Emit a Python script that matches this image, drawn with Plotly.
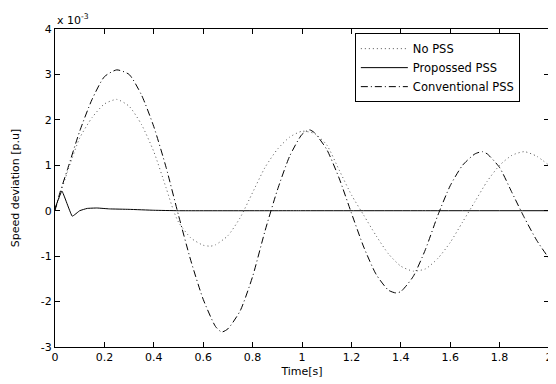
import plotly.graph_objects as go

# Time samples (s) and speed deviation values (x 1e-3 p.u.)
t_nopss = [0, 0.02, 0.05, 0.1, 0.15, 0.2, 0.25, 0.3, 0.35, 0.4, 0.45, 0.48, 0.5, 0.55, 0.6, 0.63,
           0.65, 0.7, 0.75, 0.8, 0.85, 0.9, 0.95, 1.0, 1.05, 1.1, 1.15, 1.2, 1.25, 1.3, 1.35, 1.4,
           1.45, 1.5, 1.55, 1.6, 1.65, 1.7, 1.75, 1.8, 1.85, 1.9, 1.95, 2.0]
v_nopss = [0, 0.35, 0.85, 1.6, 2.05, 2.35, 2.45, 2.3, 1.9, 1.3, 0.5, 0.0, -0.25, -0.6, -0.76, -0.78,
           -0.75, -0.55, -0.15, 0.4, 0.95, 1.35, 1.62, 1.75, 1.7, 1.45, 0.9, 0.35, -0.1, -0.55, -0.95, -1.22,
           -1.33, -1.28, -1.05, -0.7, -0.25, 0.2, 0.65, 1.0, 1.22, 1.3, 1.2, 1.0]

t_prop = [0, 0.028, 0.07, 0.1, 0.13, 0.17, 0.22, 0.3, 0.4, 0.5, 1.0, 1.5, 2.0]
v_prop = [0.05, 0.43, -0.12, 0.0, 0.05, 0.06, 0.04, 0.03, 0.01, 0.0, 0.0, 0.0, 0.0]

t_conv = [0, 0.02, 0.05, 0.1, 0.15, 0.2, 0.25, 0.3, 0.35, 0.4, 0.45, 0.5, 0.55, 0.6, 0.65, 0.675,
          0.7, 0.75, 0.8, 0.85, 0.9, 0.95, 1.0, 1.03, 1.05, 1.1, 1.15, 1.2, 1.25, 1.3, 1.35, 1.38,
          1.4, 1.45, 1.5, 1.55, 1.6, 1.65, 1.7, 1.73, 1.75, 1.8, 1.85, 1.9, 1.95, 2.0]
v_conv = [0, 0.4, 0.9, 1.75, 2.45, 2.95, 3.1, 3.0, 2.55, 1.85, 0.95, -0.1, -1.1, -1.95, -2.55, -2.67,
          -2.6, -2.2, -1.45, -0.45, 0.45, 1.2, 1.68, 1.78, 1.72, 1.35, 0.72, -0.05, -0.8, -1.4, -1.75, -1.81,
          -1.78, -1.45, -0.85, -0.1, 0.55, 1.0, 1.25, 1.3, 1.25, 0.95, 0.4, -0.15, -0.65, -1.05]

series_names = ["No PSS", "Propossed PSS", "Conventional PSS"]

x_ticks = [0, 0.2, 0.4, 0.6, 0.8, 1, 1.2, 1.4, 1.6, 1.8, 2]
x_labels = ["0", "0.2", "0.4", "0.6", "0.8", "1", "1.2", "1.4", "1.6", "1.8", "2"]
y_ticks = [-3, -2, -1, 0, 1, 2, 3, 4]
y_labels = ["-3", "-2", "-1", "0", "1", "2", "3", "4"]

font = "DejaVu Sans, Liberation Sans, Arial, sans-serif"

fig = go.Figure()
fig.add_trace(go.Scatter(x=t_nopss, y=v_nopss, mode="lines", name=series_names[0],
                         line=dict(color="#555555", width=1, dash="1px,3px", shape="spline", smoothing=0.6)))
fig.add_trace(go.Scatter(x=t_prop, y=v_prop, mode="lines", name=series_names[1],
                         line=dict(color="black", width=1, shape="spline", smoothing=0.3)))
fig.add_trace(go.Scatter(x=t_conv, y=v_conv, mode="lines", name=series_names[2],
                         line=dict(color="black", width=1, dash="7px,3px,1px,3px", shape="spline", smoothing=0.6)))

axis_common = dict(showline=True, linecolor="black", linewidth=1, mirror="ticks",
                   ticks="inside", ticklen=5, tickcolor="black", showgrid=False, zeroline=False,
                   automargin=False, ticklabeloverflow="allow",
                   tickfont=dict(family=font, size=11, color="black"))

fig.update_xaxes(range=[0, 2.000001], tickvals=x_ticks, ticktext=x_labels,
                 title=dict(text="Time[s]", font=dict(family=font, size=11, color="black"), standoff=4),
                 **axis_common)
fig.update_yaxes(range=[-3, 4], tickvals=y_ticks, ticktext=y_labels,
                 title=dict(text="Speed deviation [p.u]", font=dict(family=font, size=11, color="black"), standoff=18),
                 **axis_common)

fig.add_annotation(text="x 10<sup>-3</sup>", xref="paper", yref="paper", x=0, y=1,
                   xanchor="left", yanchor="bottom", showarrow=False,
                   font=dict(family=font, size=11, color="black"))

# page body adds an 8px offset, so the figure is sized to fit the 556x384 window
fig.update_layout(
    width=548, height=376,
    margin=dict(l=47, r=7, t=21, b=37),
    paper_bgcolor="white", plot_bgcolor="white",
    showlegend=True,
    legend=dict(x=0.607, y=0.987, xanchor="left", yanchor="top",
                bgcolor="white", bordercolor="black", borderwidth=1,
                font=dict(family=font, size=11.5, color="black"),
                tracegroupgap=0, itemwidth=47),
)

fig.write_html("out.html")
